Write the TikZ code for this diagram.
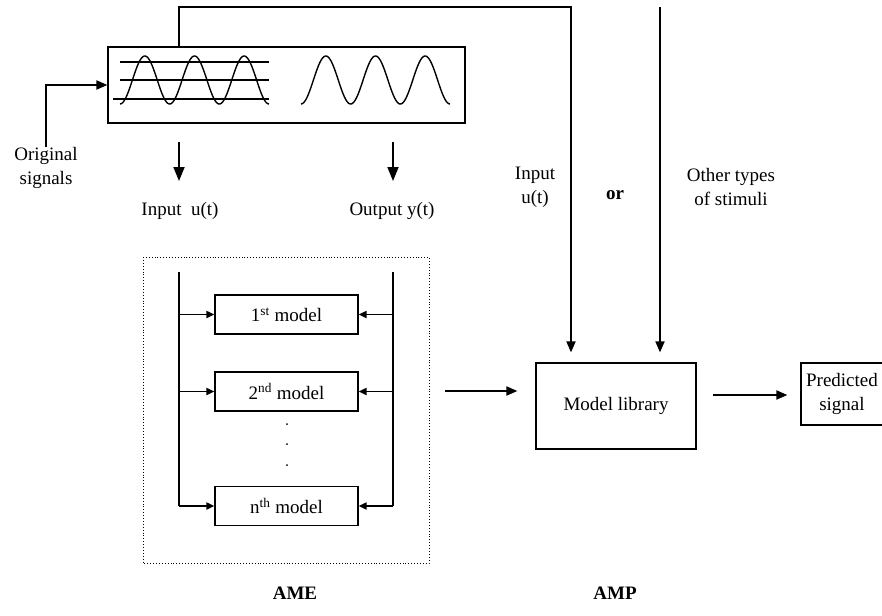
\documentclass[tikz,border=0pt]{standalone}
\usepackage{fontspec}
\setmainfont{Liberation Serif}
\usetikzlibrary{arrows.meta}
\begin{document}
\begin{tikzpicture}[x=1pt,y=-1pt,
 box/.style={draw, line width=1.2pt, inner sep=0pt},
 arr/.style={line width=1.8pt, -{Triangle[length=11pt,width=9pt]}},
 sarr/.style={line width=1.8pt, -{Triangle[length=8pt,width=7pt]}},
 barr/.style={line width=1.8pt, -{Triangle[length=14pt,width=11pt]}},
 ln/.style={line width=1.8pt},
 lbl/.style={font=\fontsize{19}{24}\selectfont, align=center, inner sep=0pt},
 wave/.style={line width=1.4pt}]
\useasboundingbox (0,0) rectangle (882,615);
% signal box
\node[box, minimum width=357pt, minimum height=76pt] (sig) at (286.5,85) {};
\draw[wave] plot[domain=120:269, samples=160, smooth] (\x,{80+24*cos(7.2479*(\x-120))});
\draw[wave] plot[domain=301:450, samples=160, smooth] (\x,{80+24*cos(7.2479*(\x-301))});
\draw[wave] (120,62) -- (269,62);
\draw[wave] (120,80) -- (269,80);
\draw[wave] (113,99) -- (269,99);
% original signals
\node[lbl] (orig) at (46,168) {Original\\signals};
\draw[arr] (orig.north) |- (sig.west);
% down arrows
\coordinate (d1) at (179,142);
\coordinate (d1e) at (179,181);
\coordinate (d2) at (393,142);
\coordinate (d2e) at (393,181);
\draw[barr] (d1) -- (d1e);
\draw[barr] (d2) -- (d2e);
\node[lbl] (inlbl) at (180,211) {Input\enspace u(t)};
\node[lbl] (outlbl) at (392,211) {Output y(t)};
% AME box
\draw[dotted, line width=0.9pt] (143,257) rectangle (429,563);
\node[lbl] (ame) at (295,593) {\textbf{AME}};
\node[box, minimum width=143pt, minimum height=39pt, lbl] (m1) at (286.5,314.5) {1\textsuperscript{st} model};
\node[box, minimum width=143pt, minimum height=39pt, lbl] (m2) at (286.5,391.5) {2\textsuperscript{nd} model};
\node[box, minimum width=143pt, minimum height=39pt, lbl] (mn) at (286.5,506) {n\textsuperscript{th} model};
\coordinate (lt) at (179,272);
\coordinate (rt) at (393,272);
\draw[ln] (lt) -- (lt |- mn.west);
\draw[ln] (rt) -- (rt |- mn.east);
\draw[sarr] (lt |- m1.west) -- (m1.west);
\draw[sarr] (lt |- m2.west) -- (m2.west);
\draw[sarr] (lt |- mn.west) -- (mn.west);
\draw[sarr] (rt |- m1.east) -- (m1.east);
\draw[sarr] (rt |- m2.east) -- (m2.east);
\draw[sarr] (rt |- mn.east) -- (mn.east);
\fill (287,424) circle (1pt);
\fill (287,444) circle (1pt);
\fill (287,465) circle (1pt);
% model library
\node[box, minimum width=160pt, minimum height=86pt, lbl] (ml) at (616,406) {Model library};
\node[lbl] (amp) at (615,593) {\textbf{AMP}};
\node[box, minimum width=82pt, minimum height=62pt, lbl] (pr) at (842,394) {Predicted\\signal};
% feedback / stimuli
\coordinate (fbs) at (179,47);
\coordinate (fbt) at (571,7);
\draw[arr, shorten >=10pt] (fbs) |- (fbt) -- (fbt |- ml.north);
\coordinate (ots) at (660,7);
\draw[arr, shorten >=10pt] (ots) -- (ots |- ml.north);
\node[lbl] (inu) at (535,187) {Input\\u(t)};
\node[lbl] (or) at (615,195) {\textbf{or}};
\node[lbl] (oth) at (731,187) {Other types\\of stimuli};
% AME -> ML -> predicted
\coordinate (a1) at (445,391);
\draw[arr, shorten >=18pt] (a1) -- (a1 -| ml.west);
\coordinate (a2) at (713,395);
\draw[arr, shorten >=13pt] (a2) -- (a2 -| pr.west);
\end{tikzpicture}
\end{document}
